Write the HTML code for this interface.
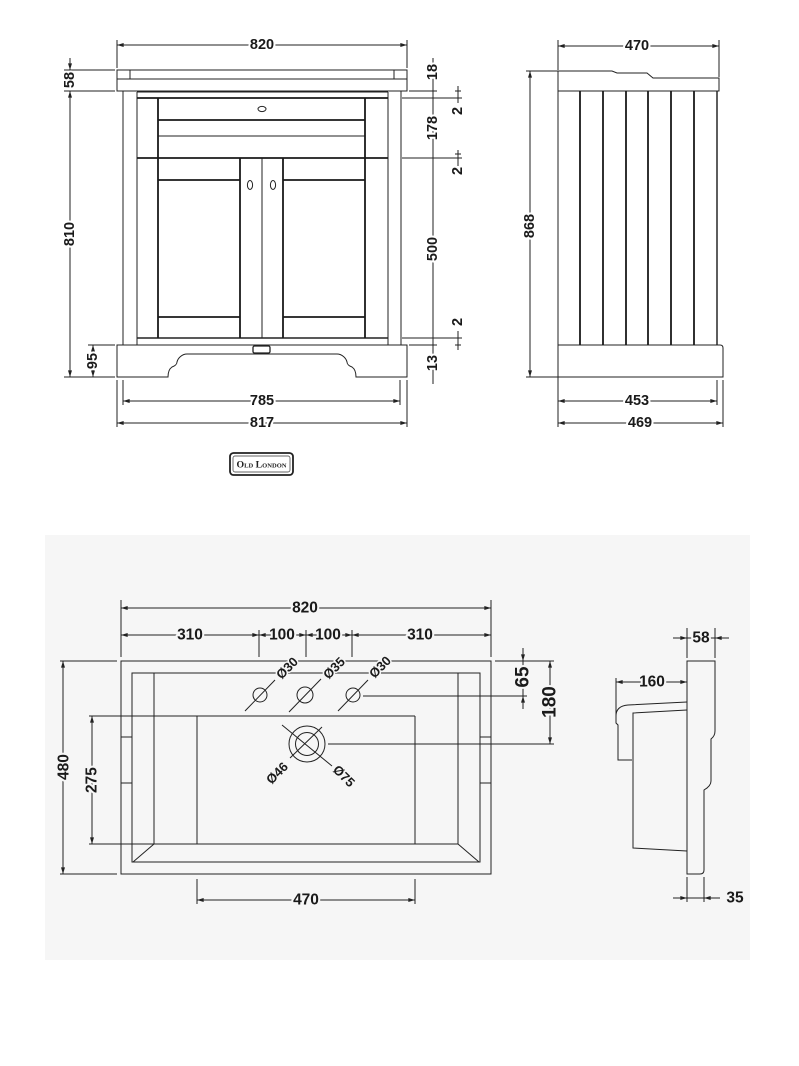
<!DOCTYPE html>
<html><head><meta charset="utf-8"><style>
html,body{margin:0;padding:0;background:#fff;}
svg{display:block;}
.l{stroke:#222;stroke-width:1;fill:none;}
.k{stroke:#1a1a1a;stroke-width:1.8;fill:none;}
.t{font-family:"Liberation Sans",sans-serif;font-weight:bold;font-size:14.5px;fill:#1a1a1a;stroke:#fff;stroke-width:4;stroke-linejoin:round;paint-order:stroke;text-anchor:middle;dominant-baseline:central;}
.g{stroke:#f6f6f6;font-size:15.5px;}
.b{font-size:19px;}
.s{font-size:13px;stroke-width:3;}
</style></head><body>
<svg width="799" height="1066" viewBox="0 0 799 1066" xmlns="http://www.w3.org/2000/svg">
<defs>
<marker id="a" viewBox="0 0 10 6" refX="10" refY="3" markerWidth="7" markerHeight="4" orient="auto-start-reverse" markerUnits="userSpaceOnUse"><path d="M0,0 L10,3 L0,6 z" fill="#222"/></marker>
</defs>
<rect x="0" y="0" width="799" height="1066" fill="#fff"/>

<!-- ================= FRONT VIEW ================= -->
<g class="l">
<rect x="117" y="70" width="290" height="21"/>
<line x1="117" y1="79" x2="407" y2="79"/>
<line x1="130" y1="70" x2="130" y2="79"/>
<line x1="394" y1="70" x2="394" y2="79"/>
<line x1="123" y1="91" x2="123" y2="345"/>
<line x1="401" y1="91" x2="401" y2="345"/>
<line x1="137" y1="92" x2="137" y2="345"/>
<line x1="388" y1="92" x2="388" y2="345"/>
<line x1="137" y1="92" x2="388" y2="92"/>
<line x1="158" y1="136" x2="365" y2="136"/>
<line x1="262" y1="158" x2="262" y2="338"/>
<line x1="137" y1="338" x2="388" y2="338" stroke-width="1.4"/>
<path d="M117,345 H407 V377 H356 C356,372 355,369 352,367 C349,366 347,364 347,362 C346,358 342,354 337,354 H187 C182,354 178,358 177,362 C177,364 175,366 172,367 C169,369 168,372 168,377 H117 Z"/>
<rect x="253" y="346" width="17" height="7" rx="1.5" stroke-width="1.3"/>
<ellipse cx="262" cy="109" rx="4" ry="2.6"/>
<ellipse cx="250" cy="185" rx="2.6" ry="4.5"/>
<ellipse cx="273" cy="185" rx="2.6" ry="4.5"/>
</g>
<g class="k">
<line x1="137" y1="98" x2="388" y2="98"/>
<line x1="158" y1="98" x2="158" y2="338"/>
<line x1="365" y1="98" x2="365" y2="338"/>
<line x1="158" y1="120" x2="365" y2="120"/>
<line x1="137" y1="158" x2="388" y2="158"/>
<line x1="158" y1="180" x2="240" y2="180"/>
<line x1="283" y1="180" x2="365" y2="180"/>
<line x1="240" y1="158" x2="240" y2="338"/>
<line x1="283" y1="158" x2="283" y2="338"/>
<line x1="158" y1="317" x2="240" y2="317"/>
<line x1="283" y1="317" x2="365" y2="317"/>
</g>
<!-- front dims -->
<g class="l">
<line x1="117" y1="40" x2="117" y2="68"/>
<line x1="407" y1="40" x2="407" y2="68"/>
<line x1="117" y1="45" x2="407" y2="45" marker-start="url(#a)" marker-end="url(#a)"/>
<line x1="64" y1="70" x2="115" y2="70"/>
<line x1="64" y1="91" x2="115" y2="91"/>
<line x1="64" y1="377" x2="115" y2="377"/>
<line x1="70" y1="58" x2="70" y2="70" marker-end="url(#a)"/>
<line x1="70" y1="91" x2="70" y2="377" marker-start="url(#a)" marker-end="url(#a)"/>
<line x1="88" y1="345" x2="115" y2="345"/>
<line x1="93" y1="345" x2="93" y2="377" marker-start="url(#a)" marker-end="url(#a)"/>
<line x1="123" y1="380" x2="123" y2="405"/>
<line x1="400" y1="380" x2="400" y2="405"/>
<line x1="123" y1="401" x2="400" y2="401" marker-start="url(#a)" marker-end="url(#a)"/>
<line x1="117" y1="380" x2="117" y2="427"/>
<line x1="407" y1="380" x2="407" y2="427"/>
<line x1="117" y1="423" x2="407" y2="423" marker-start="url(#a)" marker-end="url(#a)"/>
<line x1="409" y1="91" x2="437" y2="91"/>
<line x1="402" y1="98" x2="462" y2="98"/>
<line x1="402" y1="158" x2="462" y2="158"/>
<line x1="402" y1="338" x2="462" y2="338"/>
<line x1="409" y1="345" x2="437" y2="345"/>
<line x1="433" y1="58" x2="433" y2="384"/>
<line x1="430" y1="91" x2="436" y2="91"/>
<line x1="430" y1="98" x2="436" y2="98"/>
<line x1="430" y1="158" x2="436" y2="158"/>
<line x1="430" y1="338" x2="436" y2="338"/>
<line x1="430" y1="345" x2="436" y2="345"/>
<line x1="458" y1="86" x2="458" y2="103"/>
<line x1="455" y1="91" x2="461" y2="91"/>
<line x1="458" y1="150" x2="458" y2="166"/>
<line x1="455" y1="154" x2="461" y2="154"/>
<line x1="458" y1="331" x2="458" y2="350"/>
<line x1="455" y1="345" x2="461" y2="345"/>
</g>
<text class="t" x="262" y="45">820</text>
<text class="t" transform="rotate(-90 70 80)" x="70" y="80">58</text>
<text class="t" transform="rotate(-90 70 234)" x="70" y="234">810</text>
<text class="t" transform="rotate(-90 93 361)" x="93" y="361">95</text>
<text class="t" x="262" y="401">785</text>
<text class="t" x="262" y="423">817</text>
<text class="t" transform="rotate(-90 433 72)" x="433" y="72">18</text>
<text class="t" transform="rotate(-90 433 128)" x="433" y="128">178</text>
<text class="t" transform="rotate(-90 433 249)" x="433" y="249">500</text>
<text class="t" transform="rotate(-90 433 363)" x="433" y="363">13</text>
<text class="t" transform="rotate(-90 458 111)" x="458" y="111">2</text>
<text class="t" transform="rotate(-90 458 171)" x="458" y="171">2</text>
<text class="t" transform="rotate(-90 458 322)" x="458" y="322">2</text>

<!-- logo -->
<rect x="230" y="453" width="63" height="22" rx="3.5" fill="none" stroke="#222" stroke-width="1.8"/>
<rect x="233" y="456" width="57" height="16" rx="2" fill="none" stroke="#333" stroke-width="0.7"/>
<text x="261.5" y="464.5" font-family="Liberation Serif, serif" font-size="9" font-weight="bold" font-variant="small-caps" text-anchor="middle" dominant-baseline="central" fill="#222" textLength="50" lengthAdjust="spacingAndGlyphs">Old London</text>

<!-- ================= SIDE VIEW ================= -->
<g class="l">
<path d="M558,71 H612 L617,73 H647 L653,78 H719 V91 H558 Z"/>
<line x1="558" y1="91" x2="558" y2="345"/>
<path d="M558,345 H720 Q723,345 723,348 V377 H558 Z"/>
<line x1="558" y1="40" x2="558" y2="70"/>
<line x1="719" y1="40" x2="719" y2="77"/>
<line x1="558" y1="46" x2="719" y2="46" marker-start="url(#a)" marker-end="url(#a)"/>
<line x1="526" y1="71" x2="558" y2="71"/>
<line x1="526" y1="377" x2="558" y2="377"/>
<line x1="530" y1="71" x2="530" y2="377" marker-start="url(#a)" marker-end="url(#a)"/>
<line x1="558" y1="377" x2="558" y2="427"/>
<line x1="717" y1="380" x2="717" y2="405"/>
<line x1="723" y1="380" x2="723" y2="427"/>
<line x1="558" y1="401" x2="717" y2="401" marker-start="url(#a)" marker-end="url(#a)"/>
<line x1="558" y1="423" x2="723" y2="423" marker-start="url(#a)" marker-end="url(#a)"/>
</g>
<g class="k" stroke-width="2">
<line x1="580" y1="91" x2="580" y2="345"/>
<line x1="603" y1="91" x2="603" y2="345"/>
<line x1="626" y1="91" x2="626" y2="345"/>
<line x1="648" y1="91" x2="648" y2="345"/>
<line x1="671" y1="91" x2="671" y2="345"/>
<line x1="694" y1="91" x2="694" y2="345"/>
<line x1="717" y1="91" x2="717" y2="345" stroke-width="1.4"/>
</g>
<text class="t" x="637" y="46">470</text>
<text class="t" transform="rotate(-90 530 226)" x="530" y="226">868</text>
<text class="t" x="637" y="401">453</text>
<text class="t" x="640" y="423">469</text>

<!-- ================= PLAN VIEW ================= -->
<rect x="45" y="535" width="705" height="425" fill="#f6f6f6"/>
<g class="l">
<rect x="121" y="661" width="370" height="213"/>
<rect x="132" y="673" width="348" height="189"/>
<line x1="154" y1="673" x2="154" y2="844"/>
<line x1="458" y1="673" x2="458" y2="844"/>
<line x1="89" y1="844" x2="458" y2="844"/>
<line x1="133" y1="862" x2="154" y2="844"/>
<line x1="479" y1="862" x2="458" y2="844"/>
<line x1="89" y1="716" x2="415" y2="716"/>
<line x1="197" y1="716" x2="197" y2="844"/>
<line x1="415" y1="716" x2="415" y2="844"/>
<line x1="121" y1="737" x2="132" y2="737"/>
<line x1="121" y1="783" x2="132" y2="783"/>
<line x1="480" y1="737" x2="491" y2="737"/>
<line x1="480" y1="783" x2="491" y2="783"/>
<circle cx="260" cy="695" r="7"/>
<circle cx="305" cy="695" r="8"/>
<circle cx="353" cy="695" r="7"/>
<line x1="245" y1="711" x2="275" y2="680"/>
<line x1="289" y1="712" x2="321" y2="679"/>
<line x1="338" y1="711" x2="368" y2="680"/>
<line x1="363" y1="696" x2="527" y2="696"/>
<circle cx="307" cy="744" r="18"/>
<circle cx="307" cy="744" r="11.5"/>
<line x1="282" y1="725" x2="332" y2="766"/>
<line x1="322" y1="727" x2="290" y2="758"/>
<line x1="328" y1="744" x2="554" y2="744"/>
<!-- dims -->
<line x1="121" y1="600" x2="121" y2="657"/>
<line x1="491" y1="600" x2="491" y2="657"/>
<line x1="121" y1="608" x2="491" y2="608" marker-start="url(#a)" marker-end="url(#a)"/>
<line x1="121" y1="635" x2="259" y2="635" marker-start="url(#a)" marker-end="url(#a)"/>
<line x1="259" y1="635" x2="306" y2="635" marker-start="url(#a)" marker-end="url(#a)"/>
<line x1="306" y1="635" x2="352" y2="635" marker-start="url(#a)" marker-end="url(#a)"/>
<line x1="352" y1="635" x2="491" y2="635" marker-start="url(#a)" marker-end="url(#a)"/>
<line x1="259" y1="630" x2="259" y2="657"/>
<line x1="306" y1="630" x2="306" y2="657"/>
<line x1="352" y1="630" x2="352" y2="657"/>
<line x1="60" y1="661" x2="117" y2="661"/>
<line x1="60" y1="874" x2="117" y2="874"/>
<line x1="63" y1="661" x2="63" y2="874" marker-start="url(#a)" marker-end="url(#a)"/>
<line x1="92" y1="716" x2="92" y2="844" marker-start="url(#a)" marker-end="url(#a)"/>
<line x1="197" y1="879" x2="197" y2="904"/>
<line x1="415" y1="879" x2="415" y2="904"/>
<line x1="197" y1="900" x2="415" y2="900" marker-start="url(#a)" marker-end="url(#a)"/>
<line x1="495" y1="661" x2="554" y2="661"/>
<line x1="523" y1="648" x2="523" y2="661" marker-end="url(#a)"/>
<line x1="523" y1="661" x2="523" y2="696"/>
<line x1="523" y1="709" x2="523" y2="696" marker-end="url(#a)"/>
<line x1="550" y1="661" x2="550" y2="744" marker-start="url(#a)" marker-end="url(#a)"/>
</g>
<!-- side section -->
<g class="l">
<path d="M687,661 H715 V731 Q715,736 711,739 V781 Q711,786 704,790 V870 Q704,874 700,874 H687 Z"/>
<path d="M687,702 L628,705 Q616,706 616,716 V723 L618,725 V760 H632"/>
<path d="M687,710 L633,713 V848 L687,851"/>
<line x1="687" y1="628" x2="687" y2="658"/>
<line x1="715" y1="628" x2="715" y2="658"/>
<line x1="673" y1="638" x2="687" y2="638" marker-end="url(#a)"/>
<line x1="687" y1="638" x2="715" y2="638"/>
<line x1="729" y1="638" x2="715" y2="638" marker-end="url(#a)"/>
<line x1="616" y1="678" x2="616" y2="722"/>
<line x1="616" y1="682" x2="687" y2="682" marker-start="url(#a)" marker-end="url(#a)"/>
<line x1="687" y1="877" x2="687" y2="902"/>
<line x1="704" y1="877" x2="704" y2="902"/>
<line x1="673" y1="898" x2="687" y2="898" marker-end="url(#a)"/>
<line x1="687" y1="898" x2="704" y2="898"/>
<line x1="720" y1="898" x2="704" y2="898" marker-end="url(#a)"/>
</g>
<text class="t g" x="305" y="608">820</text>
<text class="t g" x="190" y="635">310</text>
<text class="t g" x="282" y="635">100</text>
<text class="t g" x="328" y="635">100</text>
<text class="t g" x="420" y="635">310</text>
<text class="t g" transform="rotate(-90 64 767)" x="64" y="767">480</text>
<text class="t g" transform="rotate(-90 92 780)" x="92" y="780">275</text>
<text class="t g" x="306" y="900">470</text>
<text class="t g b" transform="rotate(-90 523 677)" x="523" y="677">65</text>
<text class="t g b" transform="rotate(-90 550 702)" x="550" y="702">180</text>
<text class="t g" x="701" y="638">58</text>
<text class="t g" x="652" y="682">160</text>
<text class="t g" x="735" y="898">35</text>
<text class="t g s" transform="rotate(-45 287 668)" x="287" y="668">Ø30</text>
<text class="t g s" transform="rotate(-45 334 668)" x="334" y="668">Ø35</text>
<text class="t g s" transform="rotate(-45 380 667)" x="380" y="667">Ø30</text>
<text class="t g s" transform="rotate(-45 277 773)" x="277" y="773">Ø46</text>
<text class="t g s" transform="rotate(45 344 776)" x="344" y="776">Ø75</text>
</svg>
</body></html>
